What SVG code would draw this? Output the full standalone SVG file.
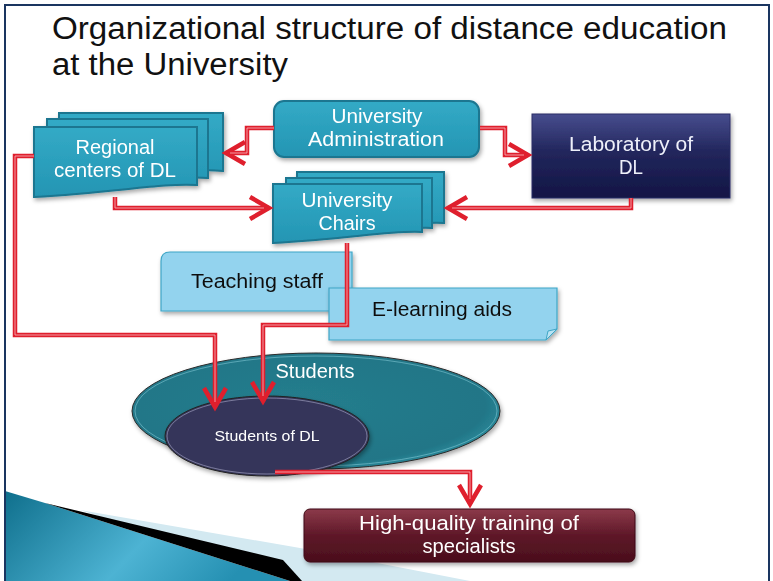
<svg xmlns="http://www.w3.org/2000/svg" width="773" height="581" viewBox="0 0 773 581">
<defs>
<style>
.t{font-family:"Liberation Sans",Arial,sans-serif;text-anchor:middle}
.w{fill:#ffffff;font-size:19.5px}
.k{fill:#111111;font-size:20px}
.teal{fill:url(#gTeal);stroke:#1a7690;stroke-width:2}
.pale{fill:#93d3ee;stroke:#3fa6c6;stroke-width:1.2}
.red{fill:none;stroke:#df1f2d;stroke-width:4.5;stroke-linejoin:miter}
.hl{fill:none;stroke:#f7b9be;stroke-width:1;opacity:0.8}
.arr{fill:none;stroke:#df1f2d;stroke-width:4.5;stroke-linejoin:miter}
</style>
<linearGradient id="gTeal" x1="0" y1="0" x2="0" y2="1">
<stop offset="0" stop-color="#33aac6"/><stop offset="1" stop-color="#2495b3"/>
</linearGradient>
<linearGradient id="gLab" x1="0" y1="0" x2="0" y2="1">
<stop offset="0" stop-color="#474d8e"/><stop offset="0.45" stop-color="#22265c"/><stop offset="1" stop-color="#121545"/>
</linearGradient>
<linearGradient id="gHQ" x1="0" y1="0" x2="0" y2="1">
<stop offset="0" stop-color="#8c3a4a"/><stop offset="0.5" stop-color="#5e1828"/><stop offset="1" stop-color="#4a0e1c"/>
</linearGradient>
<linearGradient id="gDeco" x1="0" y1="0" x2="1" y2="0.3">
<stop offset="0" stop-color="#0f6f8c"/><stop offset="0.6" stop-color="#4db3d3"/><stop offset="1" stop-color="#2590b2"/>
</linearGradient>
<radialGradient id="gStud" cx="0.45" cy="0.45" r="0.6">
<stop offset="0" stop-color="#257d8d"/><stop offset="0.85" stop-color="#227687"/><stop offset="1" stop-color="#2d8fa0"/>
</radialGradient>
<filter id="sh" x="-10%" y="-10%" width="130%" height="140%">
<feDropShadow dx="1.5" dy="2.5" stdDeviation="2" flood-color="#000" flood-opacity="0.35"/>
</filter>
<marker id="ah" markerUnits="userSpaceOnUse" orient="auto" markerWidth="40" markerHeight="40" refX="0" refY="0" viewBox="-25 -20 40 40" overflow="visible">
<path class="arr" d="M-19,-11 L0,0 L-19,11"/>
</marker>
</defs>

<rect x="0" y="0" width="773" height="581" fill="#ffffff"/>

<g id="decoration">
<polygon points="80,510 300,548 470,581 300,581" fill="#d3e9f1"/>
<polygon points="5,491 45,503 290,581 5,581" fill="url(#gDeco)"/>
<polygon points="45,503 283,560 302,581 290,581" fill="#000000"/>
</g>

<rect id="frame" x="5" y="5" width="764" height="600" fill="none" stroke="#1a3560" stroke-width="2"/>

<g id="title" font-family="'Liberation Sans', Arial, sans-serif" font-size="31" fill="#111">
<text x="52" y="39" textLength="675" lengthAdjust="spacingAndGlyphs">Organizational structure of distance education</text>
<text x="52" y="75" textLength="236" lengthAdjust="spacingAndGlyphs">at the University</text>
</g>

<g id="regional" filter="url(#sh)">
<path class="teal" d="M59,113 H223 V171 C190,168 160,176 59,181 Z"/>
<path class="teal" d="M47,119 H208 V178 C175,175 140,184 47,189 Z"/>
<path class="teal" d="M34,127 H197 V185 C160,183 120,192 34,197 Z"/>
<text class="t w" x="115" y="154" textLength="79" lengthAdjust="spacingAndGlyphs">Regional</text>
<text class="t w" x="115" y="177" textLength="122" lengthAdjust="spacingAndGlyphs">centers of DL</text>
</g>

<g id="admin" filter="url(#sh)">
<rect class="teal" x="274" y="101" width="205" height="56" rx="10"/>
<text class="t w" x="377" y="123" textLength="91" lengthAdjust="spacingAndGlyphs">University</text>
<text class="t w" x="376" y="146" textLength="136" lengthAdjust="spacingAndGlyphs">Administration</text>
</g>

<g id="lab" filter="url(#sh)">
<rect x="532" y="114" width="198" height="84" fill="url(#gLab)" stroke="#2a2e66" stroke-width="1"/>
<text class="t w" x="631" y="151" style="fill:#eef0fa" textLength="124" lengthAdjust="spacingAndGlyphs">Laboratory of</text>
<text class="t w" x="631" y="174" style="fill:#eef0fa" textLength="24" lengthAdjust="spacingAndGlyphs">DL</text>
</g>

<g id="chairs" filter="url(#sh)">
<path class="teal" d="M297,172 H444 V223 C415,221 390,228 297,233 Z"/>
<path class="teal" d="M286,178 H432 V228 C405,226 375,234 286,238 Z"/>
<path class="teal" d="M273,184 H422 V232 C390,230 350,239 273,243 Z"/>
<text class="t w" x="347" y="207" textLength="91" lengthAdjust="spacingAndGlyphs">University</text>
<text class="t w" x="347" y="230" textLength="57" lengthAdjust="spacingAndGlyphs">Chairs</text>
</g>

<g id="teaching" filter="url(#sh)">
<path class="pale" d="M161,311 V261 Q161,252 170,252 H352 V311 Z"/>
<text class="t k" x="257" y="288" textLength="132" lengthAdjust="spacingAndGlyphs">Teaching staff</text>
</g>

<g id="elearning" filter="url(#sh)">
<path class="pale" d="M329,288 H557 V329 L546,340 H329 Z"/>
<path d="M546,340 L548,331 L557,329 Z" fill="#b9e3f4" stroke="#3fa6c6" stroke-width="1"/>
<text class="t k" x="442" y="316" textLength="140" lengthAdjust="spacingAndGlyphs">E-learning aids</text>
</g>

<g id="students" filter="url(#sh)">
<ellipse cx="316" cy="411" rx="184" ry="58" fill="url(#gStud)" stroke="#2a2a2a" stroke-width="1"/>
<ellipse cx="316" cy="411" rx="181" ry="55" fill="none" stroke="#8fd6e2" stroke-width="1" opacity="0.5"/>
<text class="t w" x="315" y="378" textLength="79" lengthAdjust="spacingAndGlyphs">Students</text>
</g>

<g id="studentsDL" filter="url(#sh)">
<ellipse cx="267" cy="436" rx="102" ry="40" fill="#36365a" stroke="#222" stroke-width="1"/>
<ellipse cx="267" cy="436" rx="100" ry="38" fill="none" stroke="#a8a8c8" stroke-width="1" opacity="0.6"/>
<text class="t w" x="267" y="441" style="font-size:15.5px" textLength="105" lengthAdjust="spacingAndGlyphs">Students of DL</text>
</g>

<g id="hq" filter="url(#sh)">
<rect x="304" y="509" width="331" height="53" rx="6" fill="url(#gHQ)" stroke="#3d0a15" stroke-width="1"/>
<text class="t w" x="469" y="530" textLength="220" lengthAdjust="spacingAndGlyphs">High-quality training of</text>
<text class="t w" x="469" y="553" textLength="93" lengthAdjust="spacingAndGlyphs">specialists</text>
</g>

<g id="connectors">
<path class="red" marker-end="url(#ah)" d="M274,128 H247 V153 H226"/>
<path class="hl" d="M274,128 H247 V153 H230"/>
<path class="red" marker-end="url(#ah)" d="M480,128 H505 V155 H528"/>
<path class="hl" d="M480,128 H505 V155 H524"/>
<path class="red" marker-end="url(#ah)" d="M115,197 V208 H269"/>
<path class="hl" d="M115,197 V208 H264"/>
<path class="red" marker-end="url(#ah)" d="M631,198 V208 H448"/>
<path class="hl" d="M631,198 V208 H452"/>
<path class="red" marker-end="url(#ah)" d="M34,156 H15 V335 H215 V407"/>
<path class="hl" d="M34,156 H15 V335 H215 V402"/>
<path class="red" marker-end="url(#ah)" d="M347,243 V325 H263 V401"/>
<path class="hl" d="M347,243 V325 H263 V396"/>
<path class="red" marker-end="url(#ah)" d="M275,472 H470 V504"/>
<path class="hl" d="M275,472 H470 V499"/>
</g>
</svg>
